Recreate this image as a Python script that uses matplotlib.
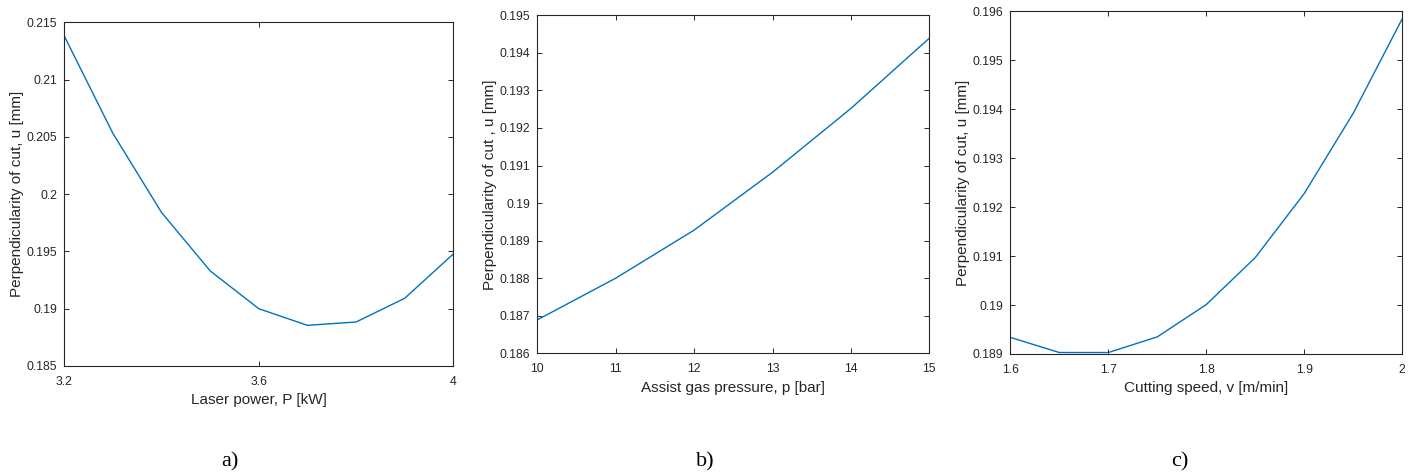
import matplotlib
matplotlib.use("Agg")
import matplotlib.pyplot as plt

# panel a) laser power
power = [3.2, 3.3, 3.4, 3.5, 3.6, 3.7, 3.8, 3.9, 4.0]
u_power = [0.2138, 0.2053, 0.1984, 0.1933, 0.1900, 0.18855, 0.18884, 0.19091, 0.19478]

# panel b) assist gas pressure
pressure = [10, 11, 12, 13, 14, 15]
u_pressure = [0.18689, 0.18800, 0.18928, 0.19082, 0.19252, 0.19439]

# panel c) cutting speed
speed = [1.6, 1.65, 1.7, 1.75, 1.8, 1.85, 1.9, 1.95, 2.0]
u_speed = [0.18934, 0.18903, 0.18903, 0.18935, 0.19001, 0.19097, 0.19228, 0.19392, 0.19585]

LINE = "#0072BD"
AX = "#262626"
W, H = 1418, 475

plt.rcParams["font.family"] = ["Liberation Sans", "DejaVu Sans"]

fig = plt.figure(figsize=(W / 100, H / 100), dpi=100)


def px_axes(l, t, r, b):
    return fig.add_axes([l / W, 1 - b / H, (r - l) / W, (b - t) / H])


panels = [
    dict(box=(64.3, 22.3, 453.3, 366), x=power, y=u_power,
         xlim=(3.2, 4.0), xt=[3.2, 3.6, 4.0], xtl=["3.2", "3.6", "4"],
         ylim=(0.185, 0.215), yt=[0.185, 0.19, 0.195, 0.2, 0.205, 0.21, 0.215],
         ytl=["0.185", "0.19", "0.195", "0.2", "0.205", "0.21", "0.215"],
         xlabel="Laser power, P [kW]", ylabel="Perpendicularity of cut, u [mm]",
         tag="a)", tagx=230),
    dict(box=(537.3, 15.3, 929.3, 353.3), x=pressure, y=u_pressure,
         xlim=(10, 15), xt=[10, 11, 12, 13, 14, 15], xtl=None,
         ylim=(0.186, 0.195),
         yt=[0.186, 0.187, 0.188, 0.189, 0.19, 0.191, 0.192, 0.193, 0.194, 0.195],
         ytl=["0.186", "0.187", "0.188", "0.189", "0.19", "0.191", "0.192",
              "0.193", "0.194", "0.195"],
         xlabel="Assist gas pressure, p [bar]",
         ylabel="Perpendicularity of cut , u [mm]", tag="b)", tagx=705),
    dict(box=(1010.3, 11.3, 1402.3, 354), x=speed, y=u_speed,
         xlim=(1.6, 2.0), xt=[1.6, 1.7, 1.8, 1.9, 2.0],
         xtl=["1.6", "1.7", "1.8", "1.9", "2"],
         ylim=(0.189, 0.196),
         yt=[0.189, 0.19, 0.191, 0.192, 0.193, 0.194, 0.195, 0.196],
         ytl=["0.189", "0.19", "0.191", "0.192", "0.193", "0.194", "0.195", "0.196"],
         xlabel="Cutting speed, v [m/min]", ylabel="Perpendicularity of cut, u [mm]",
         tag="c)", tagx=1180),
]

for p in panels:
    ax = px_axes(*p["box"])
    ax.plot(p["x"], p["y"], color=LINE, lw=1.0)
    ax.set_xlim(*p["xlim"])
    ax.set_ylim(*p["ylim"])
    ax.set_xticks(p["xt"])
    if p["xtl"] is not None:
        ax.set_xticklabels(p["xtl"])
    ax.set_yticks(p["yt"])
    ax.set_yticklabels(p["ytl"])
    ax.tick_params(direction="in", top=True, right=True, length=3.6, width=0.7,
                   colors=AX, labelsize=8.8, pad=5)
    ax.tick_params(axis="x", pad=7)
    for s in ax.spines.values():
        s.set_color(AX)
        s.set_linewidth(0.8)
    ax.set_xlabel(p["xlabel"], fontsize=11, color=AX, labelpad=4)
    ax.set_ylabel(p["ylabel"], fontsize=11, color=AX, labelpad=2)
    fig.text(p["tagx"] / W, 1 - 462 / H, p["tag"], fontsize=16,
             family=["Liberation Serif", "DejaVu Serif"], ha="center", va="center")

fig.savefig("out.png", dpi=100)
